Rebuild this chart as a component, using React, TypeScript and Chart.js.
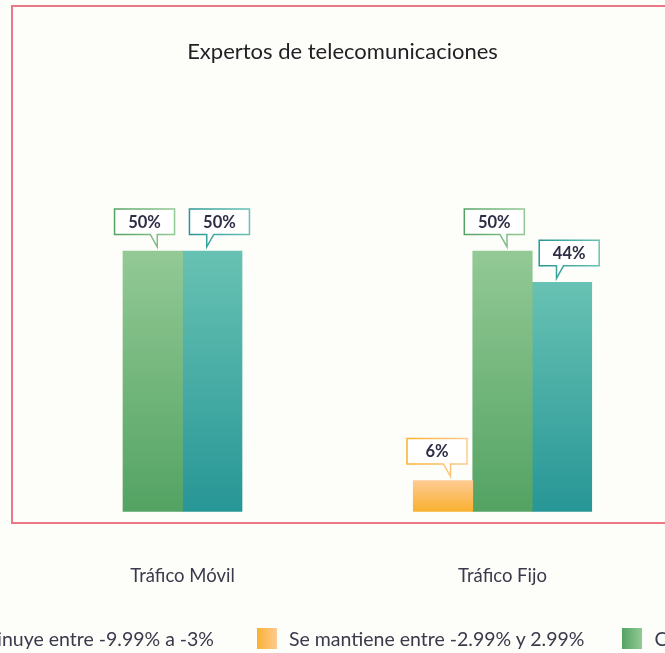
import React, { useEffect, useRef } from "react";
import { Chart, registerables } from "chart.js";

Chart.register(...registerables);

// ---- data ----
const chartTitle = "Expertos de telecomunicaciones";
const categories = ["Tráfico Móvil", "Tráfico Fijo"];
const seriesNames = [
  "Disminuye entre -9.99% a -3%",
  "Se mantiene entre -2.99% y 2.99%",
  "Crece entre 3% y 9.99%",
  "Crece más de 10%",
];
const disminuye: (number | null)[] = [null, null];
const seMantiene: (number | null)[] = [null, 6];
const crece: (number | null)[] = [50, 50];
const creceMas: (number | null)[] = [50, 44];
const seriesValues = [disminuye, seMantiene, crece, creceMas];

// ---- styles ----
const darkColors = ["#e8566b", "#fab12f", "#53a363", "#279696"];
const lightColors = ["#f4a3ae", "#fdcb93", "#93c995", "#68c2b3"];
const boxShift = [0, -6, -8.2, 7.2];
const tipShift = [5, 7.5, 4.5, -5.5];
const FONT = "Lato, 'Open Sans', sans-serif";
const BG = "#fdfdf9";

const calloutPlugin = {
  id: "callouts",
  afterDatasetsDraw(chart: any) {
    const ctx: CanvasRenderingContext2D = chart.ctx;
    chart.data.datasets.forEach((ds: any, di: number) => {
      const meta = chart.getDatasetMeta(di);
      if (meta.hidden) return;
      meta.data.forEach((bar: any, i: number) => {
        const v = ds.data[i];
        if (v == null) return;
        const w = 60;
        const h = 25.5;
        const cx = bar.x + boxShift[di];
        const left = cx - w / 2;
        const right = cx + w / 2;
        const bottom = bar.y - 16.5;
        const top = bottom - h;
        const tipX = bar.x + tipShift[di];
        const tipY = bar.y - 4;
        const tailRight = tipShift[di] > boxShift[di];
        ctx.save();
        ctx.beginPath();
        ctx.moveTo(left, top);
        ctx.lineTo(right, top);
        ctx.lineTo(right, bottom);
        if (tailRight) {
          ctx.lineTo(tipX, bottom);
          ctx.lineTo(tipX, tipY);
          ctx.lineTo(tipX - 7, bottom);
        } else {
          ctx.lineTo(tipX + 7, bottom);
          ctx.lineTo(tipX, tipY);
          ctx.lineTo(tipX, bottom);
        }
        ctx.lineTo(left, bottom);
        ctx.closePath();
        ctx.fillStyle = "#ffffff";
        ctx.fill();
        const g = ctx.createLinearGradient(left, 0, right, 0);
        g.addColorStop(0, darkColors[di]);
        g.addColorStop(1, lightColors[di]);
        ctx.strokeStyle = g;
        ctx.lineWidth = 1.5;
        ctx.stroke();
        ctx.fillStyle = "#2d2d46";
        ctx.font = `bold 16.5px ${FONT}`;
        ctx.textAlign = "center";
        ctx.textBaseline = "middle";
        ctx.fillText(`${v}%`, cx, (top + bottom) / 2 + 0.5);
        ctx.restore();
      });
    });
  },
};

function barGradient(di: number) {
  return (context: any) => {
    const chart = context.chart;
    const yScale = chart.scales?.y;
    const v = context.raw;
    if (!chart.chartArea || !yScale || v == null) return darkColors[di];
    const yTop = yScale.getPixelForValue(v);
    const yBottom = yScale.getPixelForValue(0);
    const g = chart.ctx.createLinearGradient(0, yTop, 0, yBottom);
    g.addColorStop(0, lightColors[di]);
    g.addColorStop(1, darkColors[di]);
    return g;
  };
}

function ChartCanvas() {
  const ref = useRef<HTMLCanvasElement | null>(null);
  useEffect(() => {
    if (!ref.current) return;
    const chart = new Chart(ref.current, {
      type: "bar",
      data: {
        labels: categories,
        datasets: seriesValues.map((vals, di) => ({
          label: seriesNames[di],
          data: vals,
          backgroundColor: barGradient(di),
          borderWidth: 0,
          barThickness: 59.5,
          skipNull: true,
        })),
      },
      options: {
        responsive: false,
        animation: false,
        layout: { padding: { left: 22.5, right: 2.5, top: 0, bottom: 13 } },
        plugins: {
          legend: { display: false },
          tooltip: { enabled: false },
          title: {
            display: true,
            text: chartTitle,
            color: "#1f1f24",
            font: { family: FONT, size: 22, weight: "normal" },
            padding: { top: 39, bottom: 133.4 },
          },
        },
        scales: {
          x: {
            grid: { display: false, drawTicks: false },
            border: { display: false },
            ticks: {
              color: "#3a3a4c",
              font: { family: FONT, size: 18.5 },
              padding: 53,
            },
          },
          y: { display: false, min: 0, max: 60 },
        },
      },
      plugins: [calloutPlugin],
    });
    return () => chart.destroy();
  }, []);
  return (
    <canvas
      ref={ref}
      width={665}
      height={653}
      style={{ position: "absolute", left: 0, top: 0, width: 665, height: 653 }}
    />
  );
}

function LegendItem({ di }: { di: number }) {
  return (
    <div style={{ display: "flex", alignItems: "center", whiteSpace: "nowrap" }}>
      <span
        style={{
          display: "inline-block",
          width: 20,
          height: 21,
          marginRight: 12,
          background: `linear-gradient(to right, ${darkColors[di]}, ${lightColors[di]})`,
        }}
      />
      <span>{seriesNames[di]}</span>
    </div>
  );
}

const legendRow: React.CSSProperties = {
  position: "absolute",
  top: 627,
  height: 22,
  fontFamily: FONT,
  fontSize: 19.5,
  color: "#3a3a4c",
  display: "flex",
  alignItems: "center",
};

export default function App() {
  return (
    <div
      style={{
        position: "fixed",
        left: 0,
        top: 0,
        width: 665,
        height: 653,
        overflow: "hidden",
        background: BG,
      }}
    >
      <div
        style={{
          position: "absolute",
          left: 10.5,
          top: 4.5,
          width: 700,
          height: 515,
          border: "2px solid #ea7686",
        }}
      />
      <ChartCanvas />
      <div style={{ ...legendRow, right: 665 - 214 }}>
        <LegendItem di={0} />
      </div>
      <div style={{ ...legendRow, left: 257, gap: 38 }}>
        <LegendItem di={1} />
        <LegendItem di={2} />
        <LegendItem di={3} />
      </div>
    </div>
  );
}
